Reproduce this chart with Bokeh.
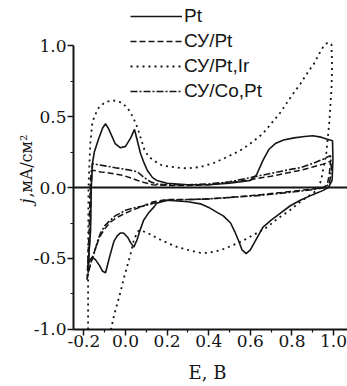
from bokeh.plotting import figure
from bokeh.models import (ColumnDataSource, Range1d, FixedTicker, NumeralTickFormatter,
                          LinearAxis, Legend, LegendItem, Label)
from bokeh.embed import file_html
from bokeh.resources import INLINE

nan = float("nan")

# Cyclic voltammograms, potential E (V) vs current density j (mA/cm^2)
pt_e = [-0.18, -0.168, -0.165, -0.158, -0.15, -0.13, -0.11, -0.096, -0.08, -0.05, -0.024, 0.0,
        0.025, 0.043, 0.055, 0.072, 0.09, 0.105, 0.13, 0.15, 0.2, 0.3, 0.4, 0.5, 0.6, 0.63,
        0.66, 0.69, 0.72, 0.76, 0.81, 0.86, 0.9, 0.94, 0.97, 0.995,
        0.997, 0.993, 0.975, 0.95, 0.9, 0.84, 0.79, 0.745, 0.7, 0.66, 0.63, 0.6, 0.58, 0.56,
        0.545, 0.525, 0.505, 0.47, 0.44, 0.4, 0.36, 0.3, 0.2, 0.15, 0.135, 0.11, 0.087, 0.07,
        0.055, 0.04, 0.025, 0.01, -0.01, -0.024, -0.04, -0.056, -0.075, -0.096, -0.11, -0.125,
        -0.144, -0.16, -0.175, -0.18]
pt_j = [-0.55, -0.3, 0.0, 0.18, 0.25, 0.34, 0.42, 0.45, 0.41, 0.31, 0.28, 0.29,
        0.35, 0.41, 0.34, 0.24, 0.17, 0.12, 0.07, 0.05, 0.03, 0.02, 0.02, 0.03, 0.05, 0.09,
        0.19, 0.27, 0.31, 0.335, 0.35, 0.36, 0.365, 0.355, 0.34, 0.33,
        0.2, 0.05, 0.0, -0.02, -0.05, -0.09, -0.13, -0.18, -0.23, -0.28, -0.36, -0.44, -0.465, -0.44,
        -0.38, -0.31, -0.25, -0.2, -0.175, -0.14, -0.115, -0.1, -0.09, -0.11, -0.14, -0.18, -0.23, -0.3,
        -0.37, -0.42, -0.39, -0.35, -0.32, -0.32, -0.34, -0.38, -0.48, -0.6, -0.59, -0.55,
        -0.51, -0.49, -0.52, -0.55]

cy_pt_e = [-0.185, -0.175, -0.17, -0.165, -0.15, -0.12, -0.087, -0.05, -0.01, 0.03, 0.058, 0.09,
           0.13, 0.2, 0.3, 0.4, 0.5, 0.6, 0.7, 0.8, 0.84, 0.9, 0.95, 0.985,
           0.98, 0.97, 0.95, 0.9, 0.84, 0.75, 0.65, 0.5, 0.4, 0.3, 0.2, 0.135, 0.1, 0.05, 0.0,
           -0.04, -0.07, -0.1, -0.125, -0.145, -0.16, -0.175, -0.185]
cy_pt_j = [-0.65, -0.3, 0.0, 0.12, 0.12, 0.11, 0.105, 0.095, 0.085, 0.065, 0.05, 0.035,
           0.02, 0.015, 0.015, 0.02, 0.035, 0.055, 0.08, 0.11, 0.12, 0.145, 0.165, 0.185,
           0.1, 0.02, 0.0, -0.01, -0.02, -0.035, -0.05, -0.07, -0.08, -0.085, -0.085, -0.1, -0.12,
           -0.15, -0.18, -0.21, -0.24, -0.29, -0.35, -0.43, -0.5, -0.58, -0.65]

# the Pt,Ir loop runs below -1.0 between its two ends; the NaN breaks it there
cy_ptir_e = [-0.18, -0.18, -0.178, -0.17, -0.16, -0.15, -0.13, -0.1, -0.06, -0.02, 0.01, 0.035,
             0.058, 0.075, 0.09, 0.11, 0.135, 0.17, 0.2, 0.25, 0.3, 0.36, 0.42, 0.48, 0.55, 0.6,
             0.66, 0.7, 0.745, 0.8, 0.84, 0.88, 0.905, 0.93, 0.95, 0.97, 0.99,
             0.993, 0.99, 0.98, 0.965, 0.94, 0.92, 0.89, 0.84, 0.79, 0.73, 0.68, 0.62, 0.57, 0.51,
             0.46, 0.4, 0.36, 0.3, 0.25, 0.2, 0.15, 0.105, 0.07, 0.058, 0.04, 0.024, 0.005, -0.01,
             -0.025, -0.04, -0.055, -0.07, nan]
cy_ptir_j = [-1.0, -0.5, 0.0, 0.3, 0.45, 0.5, 0.56, 0.6, 0.615, 0.6, 0.56, 0.5,
             0.42, 0.34, 0.27, 0.22, 0.19, 0.16, 0.15, 0.14, 0.135, 0.145, 0.17, 0.21, 0.26, 0.31,
             0.38, 0.45, 0.53, 0.65, 0.73, 0.82, 0.87, 0.94, 0.99, 1.02, 1.01,
             0.85, 0.7, 0.47, 0.24, 0.05, -0.02, -0.05, -0.1, -0.16, -0.22, -0.28, -0.33, -0.37, -0.41,
             -0.44, -0.46, -0.46, -0.44, -0.42, -0.39, -0.355, -0.32, -0.3, -0.31, -0.37, -0.47, -0.57, -0.65,
             -0.74, -0.82, -0.9, -1.0, nan]

cy_copt_e = [-0.18, -0.17, -0.165, -0.16, -0.13, -0.087, -0.05, -0.01, 0.03, 0.058, 0.09, 0.12,
             0.15, 0.2, 0.3, 0.4, 0.5, 0.6, 0.7, 0.8, 0.84, 0.9, 0.95, 0.985,
             0.99, 0.98, 0.96, 0.9, 0.84, 0.75, 0.65, 0.5, 0.4, 0.3, 0.2, 0.135, 0.09, 0.05, 0.0,
             -0.05, -0.08, -0.1, -0.12, -0.135, -0.15, -0.165, -0.18]
cy_copt_j = [-0.6, -0.3, 0.0, 0.17, 0.16, 0.15, 0.14, 0.13, 0.12, 0.11, 0.07, 0.04,
             0.025, 0.02, 0.02, 0.025, 0.04, 0.07, 0.1, 0.13, 0.14, 0.17, 0.2, 0.225,
             0.12, 0.03, 0.0, -0.015, -0.025, -0.04, -0.055, -0.07, -0.08, -0.085, -0.09, -0.11, -0.13,
             -0.14, -0.16, -0.2, -0.24, -0.27, -0.32, -0.38, -0.46, -0.52, -0.6]

series_names = ["Pt", "СУ/Pt", "СУ/Pt,Ir", "СУ/Co,Pt"]
x_ticks = [-0.2, 0.0, 0.2, 0.4, 0.6, 0.8, 1.0]
x_minor = [-0.1, 0.1, 0.3, 0.5, 0.7, 0.9]
y_ticks = [-1.0, -0.5, 0.0, 0.5, 1.0]
y_minor = [-0.75, -0.25, 0.25, 0.75]
e_min, e_max = -0.25, 1.067
j_min, j_max = -1.0, 1.0

ink = "#151515"
serif = "DejaVu Serif"

# the frame fills the whole canvas; axes sit at fixed data positions inside it
p = figure(width=347, height=386, output_backend="svg", toolbar_location=None,
           x_range=Range1d(-0.601, 1.067), y_range=Range1d(-1.402, 1.318),
           x_axis_location=None, y_axis_location=None, min_border=0)
p.outline_line_color = None
p.grid.visible = False
p.background_fill_color = "white"
p.border_fill_color = "white"


def style_axis(ax):
    ax.axis_line_width = 2
    ax.axis_line_color = ink
    ax.major_tick_line_color = ink
    ax.minor_tick_line_color = ink
    ax.major_tick_line_width = 1.5
    ax.minor_tick_line_width = 1.2
    ax.major_tick_in = 0
    ax.major_tick_out = 6
    ax.minor_tick_in = 0
    ax.minor_tick_out = 3
    ax.major_label_text_font = serif
    ax.major_label_text_font_size = "17px"
    ax.major_label_text_color = ink
    ax.major_label_standoff = 1
    ax.formatter = NumeralTickFormatter(format="0.0")


x_axis = LinearAxis(fixed_location=j_min, bounds=(e_min, e_max),
                    ticker=FixedTicker(ticks=x_ticks, minor_ticks=x_minor))
style_axis(x_axis)
x_axis.major_label_standoff = 0
p.add_layout(x_axis, "below")

y_axis = LinearAxis(fixed_location=e_min, bounds=(j_min, j_max),
                    ticker=FixedTicker(ticks=y_ticks, minor_ticks=y_minor))
style_axis(y_axis)
p.add_layout(y_axis, "left")

# zero-current line
zero_axis = LinearAxis(fixed_location=0.0, bounds=(e_min, e_max),
                       ticker=FixedTicker(ticks=[]), major_label_text_font_size="0px",
                       axis_line_width=2, axis_line_color=ink,
                       major_tick_line_color=None, minor_tick_line_color=None)
p.add_layout(zero_axis, "below")

r_pt = p.line("e", "j", source=ColumnDataSource(dict(e=pt_e, j=pt_j)),
              line_color=ink, line_width=1.6)
r_cy = p.line("e", "j", source=ColumnDataSource(dict(e=cy_pt_e, j=cy_pt_j)),
              line_color=ink, line_width=1.5, line_dash="6 3")
r_ir = p.line("e", "j", source=ColumnDataSource(dict(e=cy_ptir_e, j=cy_ptir_j)),
              line_color=ink, line_width=1.8, line_dash="2 4")
r_co = p.line("e", "j", source=ColumnDataSource(dict(e=cy_copt_e, j=cy_copt_j)),
              line_color=ink, line_width=1.6, line_dash="7 2 2 2")

legend = Legend(items=[LegendItem(label=n, renderers=[r]) for n, r in
                       zip(series_names, [r_pt, r_cy, r_ir, r_co])],
                location=(130, 283), orientation="vertical",
                glyph_width=52, glyph_height=24, label_height=24, spacing=1,
                label_standoff=2, padding=0, margin=0,
                label_text_font="Liberation Sans", label_text_font_size="19px",
                label_text_color=ink, border_line_color=None, background_fill_alpha=0)
p.add_layout(legend, "center")

# axis titles
p.add_layout(Label(x=207, y=14, x_units="screen", y_units="screen", text="E, B",
                   text_font=serif, text_font_size="18px", text_color=ink,
                   text_align="center", text_baseline="alphabetic"))
p.add_layout(Label(x=26, y=183, x_units="screen", y_units="screen", text="j",
                   angle=1.5708, text_font=serif, text_font_style="italic",
                   text_font_size="16px", text_color=ink,
                   text_align="left", text_baseline="alphabetic"))
p.add_layout(Label(x=26, y=189, x_units="screen", y_units="screen", text=",мА/см²",
                   angle=1.5708, text_font=serif, text_font_size="16px", text_color=ink,
                   text_align="left", text_baseline="alphabetic"))

open("out.html", "w").write(file_html(p, INLINE))
